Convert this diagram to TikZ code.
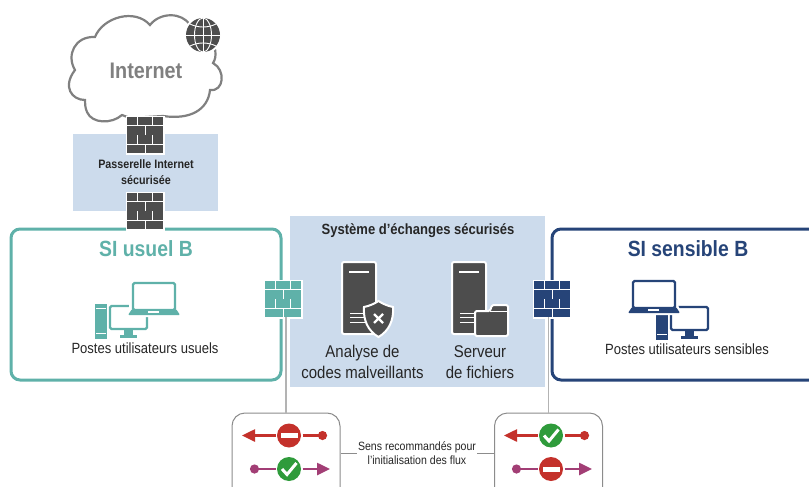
\documentclass[tikz,border=0pt]{standalone}
\usepackage{fontspec}
\setmainfont[FakeStretch=0.88]{Liberation Sans}
\usetikzlibrary{arrows.meta}
\definecolor{usuelcol}{HTML}{5FB1A9}
\definecolor{sensiblecol}{HTML}{264478}
\definecolor{panelcol}{HTML}{CCDBEC}
\definecolor{darkcol}{HTML}{4D4D4D}
\definecolor{linecol}{HTML}{B3B3B3}
\definecolor{cloudcol}{HTML}{808080}
\definecolor{redcol}{HTML}{C4312B}
\definecolor{purplecol}{HTML}{A23E75}
\definecolor{greencol}{HTML}{2F9B3B}
\tikzset{
	panel/.style={fill=panelcol,draw=none,inner sep=0pt},
	sibox/.style={draw=#1,line width=3pt,rounded corners=9pt,fill=white,inner sep=0pt},
	flowbox/.style={draw=black!45,line width=1pt,rounded corners=13pt,fill=white,inner sep=0pt,minimum width=108pt,minimum height=90pt},
	wallbox/.style={inner sep=0pt,minimum width=36pt,minimum height=36pt},
	sign/.style={circle,fill=#1,inner sep=0pt,minimum size=24pt,outer sep=1.5pt},
	flowred/.style={draw=redcol,line width=2.5pt},
	flowpurple/.style={draw=purplecol,line width=2.5pt},
	arrowhead/.style={-{Triangle[length=13pt,width=12pt]}},
	dothead/.style={-{Circle[length=9pt,width=9pt]}},
	sitext/.style={font=\bfseries\fontsize{22}{25}\selectfont,text=#1},
	smalltext/.style={font=\fontsize{14.8}{18}\selectfont,align=center,text=black!85},
	midtext/.style={font=\fontsize{17}{21}\selectfont,align=center,text=black!85},
	thintext/.style={font=\fontsize{12}{14}\selectfont,align=center,text=black!85,fill=white,inner sep=1pt},
}
\newcommand{\drawwall}[1]{
	\fill[white] (-1.5,-1.5) rectangle (37.5,37.5);
	\foreach \y in {0,18.4}{
		\fill[#1] (0,\y) rectangle (9.7,\y+8.3);
		\fill[#1] (10.7,\y) rectangle (25.3,\y+8.3);
		\fill[#1] (26.3,\y) rectangle (36,\y+8.3);
		\fill[#1] (0,\y+9.2) rectangle (17.8,\y+17.5);
		\fill[#1] (18.8,\y+9.2) rectangle (36,\y+17.5);
	}
}
\newcommand{\drawtower}[1]{
	\fill[#1] (0,0) rectangle (12,35);
	\draw[white,line width=.9pt] (1,4.5) -- (11,4.5) (1,29) -- (11,29);
}
\newcommand{\drawscreen}[1]{
	\draw[#1,line width=2.4pt,rounded corners=1.5pt] (1,1) rectangle (38,24);
	\fill[#1] (15,24) rectangle (24,30);
	\fill[#1] (11,30) rectangle (28,33);
}
\newcommand{\drawlaptop}[1]{
	\fill[white] (-3,35) -- (1,25) -- (1,-2) -- (50,-2) -- (50,25) -- (54,35) -- cycle;
	\draw[#1,line width=2.4pt,rounded corners=1.5pt] (5,1) rectangle (47,28);
	\fill[#1,rounded corners=1pt] (0,33) -- (4,27) -- (48,27) -- (52,33) -- cycle;
	\fill[white] (20,28.5) rectangle (31,30.5);
}
\newcommand{\drawserver}{
	\draw[white,line width=2pt,fill=darkcol,rounded corners=2pt] (0,0) rectangle (34,72);
	\draw[white,line width=2pt] (7,10) -- (27,10);
	\draw[white,line width=1pt] (8,51) -- (24,51) (8,55.5) -- (24,55.5) (8,60) -- (24,60);
}
\newcommand{\nosign}[3]{
	\node[sign=redcol] (#1) at (#2,#3) {};
	\fill[white] (#2-8.5,#3-2.5) rectangle (#2+8.5,#3+2.5);
}
\newcommand{\oksign}[3]{
	\node[sign=greencol] (#1) at (#2,#3) {};
	\draw[white,line width=3pt] (#2-7,#3) -- (#2-2,#3+5.5) -- (#2+7.5,#3-6);
}
\begin{document}
\begin{tikzpicture}[x=1pt,y=-1pt]
	\useasboundingbox (0,0) rectangle (809,487);
	\clip (0,0) rectangle (809,487);

	\node[panel,minimum width=145pt,minimum height=77pt] (passerelle) at (145.5,172.5) {};
	\node[panel,minimum width=255pt,minimum height=171pt] (echanges) at (417.5,301.5) {};
	\node[sibox=usuelcol,minimum width=270pt,minimum height=151pt] (usuel) at (146,304.5) {};
	\node[sibox=sensiblecol,minimum width=290pt,minimum height=151pt] (sensible) at (697,304.5) {};

	\draw[cloudcol,line width=2.2pt,fill=white]
		(122,115) .. controls (112,124) and (92,124) .. (87,112)
		.. controls (85,107) and (85,104) .. (85,100)
		.. controls (72,100) and (62,87) .. (75,70)
		.. controls (66,55) and (75,36) .. (95,37)
		.. controls (103,17) and (135,8) .. (150,25)
		.. controls (160,12) and (182,12) .. (190,25)
		.. controls (205,22) and (222,50) .. (213,63)
		.. controls (226,70) and (224,92) .. (210,90)
		.. controls (208,110) and (190,120) .. (163,116)
		-- (130,118) -- cycle;
	\node[font=\bfseries\fontsize{22.5}{26}\selectfont,text=cloudcol] (internet) at (146,71) {Internet};

	\fill[white] (203,35) circle (19);
	\fill[darkcol] (203,35) circle (17);
	\draw[white,line width=.9pt] (203,18) -- (203,52) (186,35) -- (220,35);
	\draw[white,line width=.9pt] (190,24) .. controls (198,28) and (208,28) .. (216,24)
		(190,46) .. controls (198,42) and (208,42) .. (216,46);
	\draw[white,line width=.9pt] (203,35) ellipse (8.5 and 17);

	\node[wallbox] (wallhaut) at (145,135) {};
	\begin{scope}[shift={(127,117)}]
	\drawwall{darkcol}
	\end{scope}
	\node[wallbox] (wallbas) at (145,211) {};
	\begin{scope}[shift={(127,193)}]
	\drawwall{darkcol}
	\end{scope}
	\node[wallbox] (wallusuel) at (283,299) {};
	\begin{scope}[shift={(265,281)}]
	\drawwall{usuelcol}
	\end{scope}
	\node[wallbox] (wallsensible) at (552,299) {};
	\begin{scope}[shift={(534,281)}]
	\drawwall{sensiblecol}
	\end{scope}

	\node[font=\bfseries\fontsize{12.2}{16}\selectfont,align=center,text=black!85] (passeleg) at (146,172.5) {Passerelle Internet\\sécurisée};
	\node[font=\bfseries\fontsize{14.8}{17}\selectfont,text=black!85] (echangeleg) at (418,231) {Système d’échanges sécurisés};
	\node[sitext=usuelcol] (usueleg) at (146,249) {SI usuel B};
	\node[sitext=sensiblecol] (sensibleg) at (688,249) {SI sensible B};

	\begin{scope}[shift={(95,304)}]
	\drawtower{usuelcol}
	\end{scope}
	\begin{scope}[shift={(109,305)}]
	\drawscreen{usuelcol}
	\end{scope}
	\begin{scope}[shift={(128,282)}]
	\drawlaptop{usuelcol}
	\end{scope}
	\node[smalltext] (usuelpostes) at (145,348) {Postes utilisateurs usuels};

	\begin{scope}[shift={(656,305)}]
	\drawtower{sensiblecol}
	\end{scope}
	\begin{scope}[shift={(670,306)}]
	\drawscreen{sensiblecol}
	\end{scope}
	\begin{scope}[shift={(628,280)}]
	\drawlaptop{sensiblecol}
	\end{scope}
	\node[smalltext] (sensiblepostes) at (687,349.5) {Postes utilisateurs sensibles};

	\begin{scope}[shift={(342,262)}]
	\drawserver{}
	\draw[white,line width=2pt,fill=darkcol] (36.5,39) .. controls (32,42) and (27,44) .. (22,45)
		.. controls (21,58) and (26,69) .. (36.5,75) .. controls (47,69) and (52,58) .. (51,45)
		.. controls (46,44) and (41,42) .. (36.5,39) -- cycle;
	\draw[white,line width=2.2pt] (32,52) -- (41,61) (41,52) -- (32,61);
	\end{scope}
	\node[midtext] (analyse) at (362.5,362) {Analyse de\\codes malveillants};

	\begin{scope}[shift={(452,262)}]
	\drawserver{}
	\draw[white,line width=2pt,fill=darkcol,rounded corners=1.5pt] (23,74) -- (23,49) -- (38,49)
		-- (40,43) -- (56,43) -- (56,74) -- cycle;
	\draw[white,line width=1pt] (38,49) -- (56,49);
	\end{scope}
	\node[midtext] (serveur) at (480,362) {Serveur\\de fichiers};

	\node[flowbox] (flowusuel) at (286,458) {};
	\node[flowbox] (flowsensible) at (548.5,458) {};
	\node[thintext] (sens) at (417,453) {Sens recommandés pour\\l’initialisation des flux};

	\draw[linecol,line width=1.6pt] (flowusuel.north) -- (flowusuel.north |- wallusuel.south);
	\draw[linecol,line width=1.6pt] (flowsensible.north) -- (flowsensible.north |- wallsensible.south);
	\draw[black!45,line width=.8pt] (sens.west) -- (sens.west -| flowusuel.east);
	\draw[black!45,line width=.8pt] (sens.east) -- (sens.east -| flowsensible.west);

	\coordinate (ltipa) at (242,435.5);
	\coordinate (ldota) at (327,435.5);
	\coordinate (ldotb) at (250,469);
	\coordinate (ltipb) at (330,469);
	\coordinate (rtipa) at (504,435.5);
	\coordinate (rdota) at (589,435.5);
	\coordinate (rdotb) at (512,469);
	\coordinate (rtipb) at (592,469);

	\nosign{lno}{289}{435.5}
	\oksign{lok}{289}{469}
	\oksign{rok}{551}{435.5}
	\nosign{rno}{551}{469}

	\draw[flowred,arrowhead] (lno) -- (ltipa);
	\draw[flowred,dothead] (lno) -- (ldota);
	\draw[flowpurple,dothead] (lok) -- (ldotb);
	\draw[flowpurple,arrowhead] (lok) -- (ltipb);
	\draw[flowred,arrowhead] (rok) -- (rtipa);
	\draw[flowred,dothead] (rok) -- (rdota);
	\draw[flowpurple,dothead] (rno) -- (rdotb);
	\draw[flowpurple,arrowhead] (rno) -- (rtipb);
\end{tikzpicture}
\end{document}
